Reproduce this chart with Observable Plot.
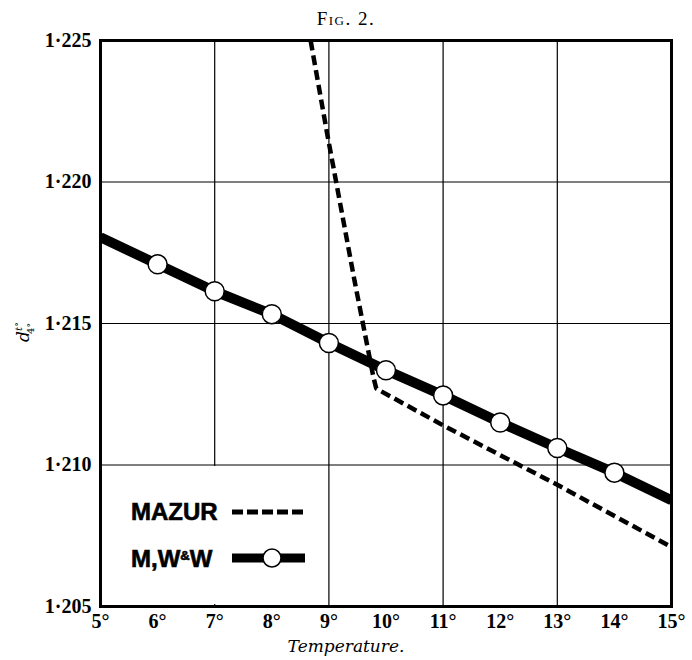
<!DOCTYPE html>
<html><head><meta charset="utf-8">
<script src="https://cdn.jsdelivr.net/npm/d3@7"></script>
<script src="https://cdn.jsdelivr.net/npm/@observablehq/plot@0.6"></script>
<style>
body{margin:0;background:#fff;width:692px;height:660px;overflow:hidden}
#title{box-sizing:border-box;height:30px;padding-top:4px;line-height:30px;text-align:center;font-family:"Liberation Serif";font-size:19px;font-variant:small-caps;letter-spacing:1.5px;color:#000}
#caption{height:25px;line-height:22px;text-align:center;font-family:"DejaVu Serif";font-style:italic;font-size:17px;color:#000}
svg{display:block}
</style></head><body>
<div id="title">Fig. 2.</div>
<div id="chart"></div>
<div id="caption">Temperature.</div>
<script>
// Axis ticks
const temperatureTicks = [5, 6, 7, 8, 9, 10, 11, 12, 13, 14, 15];
const densityTicks = [1.205, 1.210, 1.215, 1.220, 1.225];
const gridTemps = [7, 9, 11, 13];
const gridDensities = [1.210, 1.215, 1.220];

// M,W&W series (line through observed points)
const mwwTemps   = [5, 6, 7, 8, 9, 10, 11, 12, 13, 14, 15];
const mwwDensity = [1.21805, 1.21709, 1.21614, 1.21533, 1.21431, 1.21335, 1.21246, 1.21150, 1.21060, 1.20973, 1.20875];
const mwwObservedTemps = [6, 7, 8, 9, 10, 11, 12, 13, 14];

// Mazur series
const mazurTemps   = [8.68, 8.97, 9.45, 9.78, 9.83, 11, 13, 15];
const mazurDensity = [1.2250, 1.2217, 1.2165, 1.2131, 1.2127, 1.2114, 1.2093, 1.2071];

const mww = mwwTemps.map((t, i) => ({t, d: mwwDensity[i]}));
const mwwPts = mww.filter(p => mwwObservedTemps.includes(p.t));
const mazur = mazurTemps.map((t, i) => ({t, d: mazurDensity[i]}));

const fmtY = d => d3.format(".3f")(d).replace(".", "·");
const fmtX = d => d + "°";

const plot = Plot.plot({
  width: 692,
  height: 605,
  marginTop: 10,
  marginBottom: 29,
  marginLeft: 100,
  marginRight: 21,
  style: {fontFamily: "Liberation Serif", fontSize: "20px", fontWeight: "bold", color: "#000", background: "#fff"},
  x: {domain: [5, 15], label: null},
  y: {domain: [1.205, 1.225], label: null},
  marks: [
    Plot.gridX(gridTemps, {stroke: "#000", strokeOpacity: 1, strokeWidth: 1.2}),
    Plot.gridY(gridDensities, {stroke: "#000", strokeOpacity: 1, strokeWidth: 1.2}),
    Plot.line(mww, {x: "t", y: "d", stroke: "#000", strokeWidth: 10, strokeLinecap: "butt", clip: true}),
    Plot.line(mazur, {x: "t", y: "d", stroke: "#000", strokeWidth: 4.5, strokeDasharray: "10,5", strokeLinecap: "butt", strokeLinejoin: "miter", clip: true}),
    Plot.dot(mwwPts, {x: "t", y: "d", r: 9.5, fill: "#fff", stroke: "#000", strokeWidth: 1.5}),
    Plot.frame({stroke: "#000", strokeWidth: 3}),
    Plot.axisX(temperatureTicks, {tickSize: 0, tickPadding: 7, tickFormat: fmtX, label: null, fontSize: 20}),
    Plot.axisY(densityTicks, {tickSize: 0, tickPadding: 9, tickFormat: fmtY, label: null, fontSize: 20})
  ]
});
document.getElementById("chart").appendChild(plot);

const xs = plot.scale("x"), ys = plot.scale("y");
const svg = d3.select(plot);

// y-axis label d^{t°}_{4°}
const yl = svg.append("text")
  .attr("transform", "translate(29,302) rotate(-90)")
  .attr("text-anchor", "middle")
  .style("font-family", "DejaVu Serif").style("font-style", "italic")
  .style("font-weight", "normal").style("font-size", "17px").attr("fill", "#000");
yl.append("tspan").text("d");
yl.append("tspan").attr("dy", -7).style("font-size", "10px").text("t°");
yl.append("tspan").attr("dx", -12).attr("dy", 12).style("font-size", "10px").style("font-style", "normal").text("4°");

// Legend (inside plot area, white background hiding grid)
const lg = svg.append("g").attr("text-anchor", "start");
lg.append("rect")
  .attr("x", xs.apply(5) + 2).attr("y", ys.apply(1.21) + 1.5)
  .attr("width", xs.apply(8.85) - xs.apply(5) - 2)
  .attr("height", ys.apply(1.205) - ys.apply(1.21) - 3.5)
  .attr("fill", "#fff");
lg.append("text").attr("x", 131).attr("y", 490).attr("text-anchor", "start")
  .style("font-family", "Liberation Sans").style("font-weight", "bold").style("font-size", "24px")
  .attr("fill", "#000").attr("stroke", "#000").attr("stroke-width", 0.6).text("MAZUR");
lg.append("line").attr("x1", 232).attr("x2", 304).attr("y1", 482).attr("y2", 482)
  .attr("stroke", "#000").attr("stroke-width", 5).attr("stroke-dasharray", "11,4");
const t2 = lg.append("text").attr("x", 131).attr("y", 537).attr("text-anchor", "start")
  .style("font-family", "Liberation Sans").style("font-weight", "bold").style("font-size", "24px")
  .attr("fill", "#000").attr("stroke", "#000").attr("stroke-width", 0.6);
t2.append("tspan").text("M,W");
t2.append("tspan").attr("dy", -7).style("font-size", "13px").text("&");
t2.append("tspan").attr("dy", 7).text("W");
lg.append("line").attr("x1", 232).attr("x2", 305).attr("y1", 528).attr("y2", 528)
  .attr("stroke", "#000").attr("stroke-width", 9);
lg.append("circle").attr("cx", 272).attr("cy", 528).attr("r", 9)
  .attr("fill", "#fff").attr("stroke", "#000").attr("stroke-width", 1.5);
</script>
</body></html>
